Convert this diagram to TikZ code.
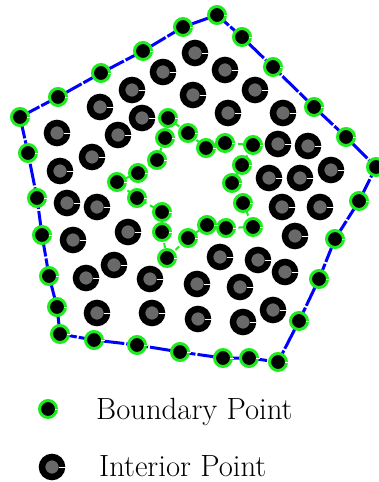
\documentclass[tikz,border=0pt]{standalone}
\usepackage{fontspec}
\usetikzlibrary{backgrounds}
\definecolor{bgreen}{RGB}{30,235,30}
\definecolor{igray}{RGB}{105,105,105}
\begin{document}
\begin{tikzpicture}[x=1pt,y=-1pt,
  bpt/.style={circle,inner sep=0pt,outer sep=0pt,minimum size=17pt,fill=black,draw=bgreen,line width=3pt},
  ipt/.style={circle,inner sep=0pt,outer sep=0pt,minimum size=20pt,fill=igray,draw=black,line width=6.5pt},
  outerline/.style={draw=blue,line width=3pt,line join=round,dash pattern=on 22pt off 2pt},
  innerline/.style={draw=bgreen,line width=2pt,dash pattern=on 5pt off 4pt},
  notch/.style={draw=white,line width=0.8pt},
  lbl/.style={anchor=base west,inner sep=0pt,font=\fontsize{30.7}{36}\selectfont}]
\useasboundingbox (0,0) rectangle (379,482);
% outer boundary points
\foreach \n/\x/\y in {o1/20/117,o2/58/97,o3/101/73,o4/143/51,o5/183/27,o6/217/15,
  o7/242/37,o8/273/67,o9/314/107,o10/346/137,o11/376/167,o12/359/201,o13/335/239,
  o14/319/279,o15/299/321,o16/278/362,o17/249/358,o18/223/358,o19/180/352,o20/137/345,
  o21/94/340,o22/60/334,o23/57/307,o24/49/276,o25/42/235,o26/37/198,o27/28/153}
  {\node[bpt] (\n) at (\x,\y) {};
   \draw[notch] ([xshift=7pt]\n.center) -- ([xshift=11pt]\n.center);}
% hole boundary points
\foreach \n/\x/\y in {h1/168/118,h2/188/133,h3/206/148,h4/225/143,h5/253/145,
  h6/242/165,h7/232/183,h8/243/203,h9/253/227,h10/226/228,h11/207/225,h12/188/238,
  h13/167/258,h14/162/232,h15/162/212,h16/137/198,h17/117/182,h18/138/173,
  h19/157/160,h20/165/138}
  {\node[bpt] (\n) at (\x,\y) {};
   \draw[notch] ([xshift=7pt]\n.center) -- ([xshift=11pt]\n.center);}
% interior points
\foreach \n/\x/\y in {p1/195/53,p2/163/72,p3/225/70,p4/132/90,p5/193/95,p6/255/90,
  p7/100/107,p8/142/118,p9/228/113,p10/283/113,p11/57/133,p12/118/135,p13/278/144,
  p14/308/146,p15/92/157,p16/60/171,p17/269/178,p18/300/178,p19/331/170,p20/67/203,
  p21/97/207,p22/282/207,p23/320/207,p24/73/240,p25/128/232,p26/295/236,p27/114/265,
  p28/86/278,p29/150/279,p30/197/284,p31/220/257,p32/258/260,p33/285/272,p34/240/287,
  p35/97/313,p36/152/313,p37/198/319,p38/243/322,p39/273/310}
  {\node[ipt] (\n) at (\x,\y) {};
   \draw[notch] ([xshift=6.5pt]\n.center) -- ([xshift=14pt]\n.center);}
\begin{pgfonlayer}{background}
\draw[outerline] (o1.center) \foreach \k in {2,...,27} {-- (o\k.center)} -- cycle;
\draw[innerline] (h1.center) \foreach \k in {2,...,20} {-- (h\k.center)} -- cycle;
\end{pgfonlayer}
% legend
\node[bpt] (lb) at (48,409) {};
\draw[notch] ([xshift=7pt]lb.center) -- ([xshift=11pt]lb.center);
\node[lbl] (tb) at (96,419) {Boundary Point};
\node[ipt] (li) at (52,467) {};
\draw[notch] ([xshift=6.5pt]li.center) -- ([xshift=14pt]li.center);
\node[lbl] (ti) at (99,476) {Interior Point};
\end{tikzpicture}
\end{document}
